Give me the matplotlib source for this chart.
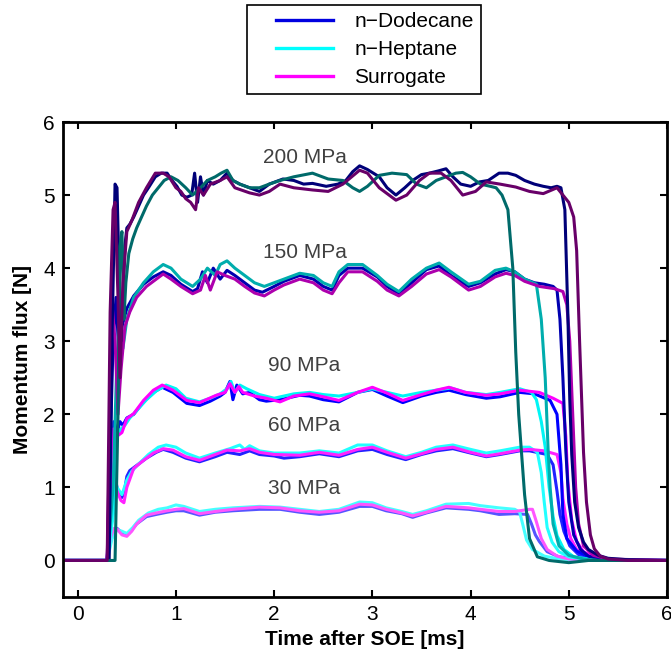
import numpy as np
import matplotlib
matplotlib.use('Agg')
import matplotlib.pyplot as plt
from matplotlib.lines import Line2D
from matplotlib.legend_handler import HandlerLine2D

plt.rcParams['font.family'] = ['Liberation Sans', 'DejaVu Sans']

# (time [ms], momentum flux [N])
dod200 = [(-0.15, 0), (0.32, 0), (0.35, 3.1), (0.38, 5.15), (0.40, 5.1), (0.42, 4.0), (0.44, 3.0),
          (0.46, 3.6), (0.48, 4.3), (0.50, 4.55), (0.53, 4.6), (0.57, 4.7), (0.62, 4.85), (0.67, 5.0),
          (0.72, 5.1), (0.79, 5.25), (0.85, 5.3), (0.91, 5.3), (0.96, 5.2), (1.01, 5.12), (1.06, 5.0),
          (1.11, 4.97), (1.16, 5.0), (1.19, 5.3), (1.22, 4.9), (1.25, 5.25), (1.28, 5.0), (1.32, 5.2),
          (1.38, 5.15), (1.45, 5.2), (1.52, 5.3), (1.58, 5.2), (1.65, 5.15), (1.75, 5.1), (1.85, 5.05),
          (1.95, 5.15), (2.09, 5.22), (2.2, 5.2), (2.3, 5.15), (2.39, 5.16), (2.53, 5.12), (2.65, 5.15),
          (2.73, 5.2), (2.8, 5.32), (2.87, 5.4), (2.95, 5.35), (3.07, 5.25), (3.15, 5.1), (3.24, 5.0),
          (3.33, 5.1), (3.41, 5.2), (3.5, 5.28), (3.58, 5.3), (3.67, 5.33), (3.75, 5.36), (3.82, 5.25),
          (3.9, 5.15), (4.0, 5.12), (4.09, 5.18), (4.18, 5.2), (4.29, 5.3), (4.38, 5.3), (4.46, 5.27),
          (4.55, 5.2), (4.65, 5.15), (4.74, 5.12), (4.82, 5.1), (4.88, 5.12), (4.92, 5.1), (4.96, 4.8),
          (4.99, 3.4), (5.01, 2.2), (5.03, 1.45), (5.06, 0.8), (5.1, 0.45), (5.15, 0.25), (5.2, 0.15),
          (5.3, 0.07), (5.4, 0.03), (5.6, 0.01), (6.0, 0.0)]
hep200 = [(-0.15, 0), (0.38, 0), (0.41, 2.0), (0.43, 4.3), (0.45, 4.5), (0.47, 3.3), (0.49, 3.8),
          (0.52, 4.2), (0.56, 4.4), (0.6, 4.55), (0.65, 4.7), (0.7, 4.85), (0.76, 5.0), (0.82, 5.1),
          (0.88, 5.2), (0.95, 5.25), (1.02, 5.2), (1.1, 5.1), (1.17, 5.0), (1.25, 5.1), (1.32, 5.2),
          (1.4, 5.25), (1.46, 5.3), (1.52, 5.34), (1.58, 5.2), (1.65, 5.15), (1.75, 5.1), (1.85, 5.1),
          (1.95, 5.15), (2.06, 5.2), (2.2, 5.25), (2.39, 5.3), (2.55, 5.22), (2.7, 5.2), (2.8, 5.1),
          (2.87, 5.05), (2.95, 5.12), (3.07, 5.27), (3.2, 5.3), (3.35, 5.28), (3.45, 5.15), (3.55, 5.1),
          (3.65, 5.2), (3.75, 5.25), (3.85, 5.3), (3.92, 5.31), (4.0, 5.25), (4.1, 5.15), (4.2, 5.12),
          (4.26, 5.1), (4.32, 5.0), (4.38, 4.8), (4.43, 4.0), (4.46, 2.85), (4.49, 2.0), (4.52, 1.45),
          (4.55, 0.9), (4.6, 0.3), (4.68, 0.05), (4.8, 0.0), (5.0, -0.03), (5.2, 0.0), (5.5, 0.0), (6.0, 0.0)]
sur200 = [(-0.15, 0), (0.30, 0), (0.33, 3.4), (0.36, 4.8), (0.38, 4.9), (0.41, 3.6), (0.43, 2.5),
          (0.46, 3.8), (0.5, 4.5), (0.55, 4.65), (0.62, 4.9), (0.7, 5.1), (0.79, 5.3), (0.87, 5.3),
          (0.93, 5.25), (1.0, 5.1), (1.05, 5.05), (1.1, 4.95), (1.15, 4.9), (1.2, 4.8), (1.23, 5.1),
          (1.28, 5.0), (1.35, 5.15), (1.45, 5.2), (1.52, 5.25), (1.6, 5.1), (1.75, 5.03), (1.85, 5.0),
          (1.95, 5.05), (2.06, 5.15), (2.2, 5.1), (2.39, 5.07), (2.55, 5.05), (2.7, 5.15), (2.87, 5.34),
          (2.95, 5.3), (3.07, 5.1), (3.24, 4.93), (3.35, 5.0), (3.48, 5.2), (3.58, 5.3), (3.7, 5.3),
          (3.8, 5.2), (3.92, 5.0), (4.05, 5.05), (4.16, 5.18), (4.3, 5.15), (4.46, 5.11), (4.6, 5.05),
          (4.74, 5.02), (4.88, 5.1), (4.94, 5.0), (5.0, 4.9), (5.05, 4.7), (5.08, 4.24), (5.11, 3.0),
          (5.15, 1.48), (5.18, 0.8), (5.22, 0.35), (5.26, 0.16), (5.32, 0.06), (5.4, 0.02), (5.6, 0.0),
          (6.0, 0.0)]

dod150 = [(-0.15, 0), (0.30, 0), (0.33, 1.5), (0.36, 3.0), (0.39, 3.6), (0.42, 2.8), (0.45, 3.2),
          (0.5, 3.45), (0.57, 3.62), (0.67, 3.78), (0.77, 3.88), (0.87, 3.95), (0.95, 3.9), (1.05, 3.78),
          (1.17, 3.68), (1.22, 3.72), (1.27, 3.95), (1.32, 3.8), (1.38, 4.0), (1.45, 3.85), (1.52, 3.97),
          (1.6, 3.9), (1.7, 3.8), (1.8, 3.7), (1.88, 3.67), (2.0, 3.75), (2.1, 3.82), (2.26, 3.9),
          (2.4, 3.85), (2.5, 3.75), (2.59, 3.7), (2.66, 3.9), (2.75, 4.0), (2.9, 4.0), (3.05, 3.88),
          (3.15, 3.75), (3.27, 3.65), (3.4, 3.8), (3.55, 3.98), (3.68, 4.03), (3.8, 3.9), (3.98, 3.75),
          (4.1, 3.8), (4.25, 3.92), (4.36, 3.98), (4.45, 3.95), (4.55, 3.85), (4.65, 3.8), (4.75, 3.78),
          (4.84, 3.75), (4.88, 3.7), (4.91, 3.3), (4.94, 2.5), (4.97, 1.5), (5.0, 0.8), (5.05, 0.35),
          (5.12, 0.15), (5.2, 0.06), (5.3, 0.02), (5.5, 0.0), (6.0, 0.0)]
hep150 = [(-0.15, 0), (0.30, 0), (0.36, 1.0), (0.4, 2.8), (0.43, 3.3), (0.46, 2.9), (0.5, 3.3),
          (0.57, 3.6), (0.67, 3.8), (0.77, 3.95), (0.87, 4.05), (0.95, 4.0), (1.05, 3.85), (1.17, 3.75),
          (1.25, 3.85), (1.32, 4.0), (1.4, 3.9), (1.45, 4.05), (1.52, 4.1), (1.6, 4.0), (1.7, 3.9),
          (1.8, 3.8), (1.9, 3.75), (2.0, 3.8), (2.1, 3.85), (2.26, 3.93), (2.4, 3.9), (2.5, 3.8),
          (2.59, 3.75), (2.66, 3.95), (2.75, 4.05), (2.9, 4.05), (3.05, 3.9), (3.15, 3.78), (3.27, 3.68),
          (3.4, 3.85), (3.55, 4.0), (3.68, 4.07), (3.8, 3.95), (3.98, 3.78), (4.1, 3.82), (4.25, 3.97),
          (4.36, 4.0), (4.45, 3.95), (4.55, 3.85), (4.67, 3.78), (4.72, 3.3), (4.76, 2.5), (4.79, 1.5),
          (4.81, 1.0), (4.84, 0.5), (4.9, 0.2), (5.0, 0.07), (5.15, 0.02), (5.3, 0.0), (6.0, 0.0)]
sur150 = [(-0.15, 0), (0.30, 0), (0.33, 2.0), (0.35, 3.5), (0.38, 3.0), (0.41, 2.0), (0.44, 2.6),
          (0.48, 3.2), (0.53, 3.4), (0.6, 3.6), (0.7, 3.75), (0.8, 3.85), (0.87, 3.92), (0.95, 3.85),
          (1.05, 3.75), (1.17, 3.65), (1.25, 3.7), (1.3, 3.9), (1.35, 3.7), (1.42, 3.95), (1.5, 3.9),
          (1.6, 3.85), (1.7, 3.75), (1.8, 3.66), (1.9, 3.62), (2.0, 3.7), (2.1, 3.77), (2.26, 3.85),
          (2.4, 3.8), (2.5, 3.7), (2.59, 3.65), (2.66, 3.8), (2.75, 3.95), (2.9, 3.95), (3.05, 3.82),
          (3.15, 3.7), (3.27, 3.62), (3.4, 3.75), (3.55, 3.92), (3.68, 3.98), (3.8, 3.88), (3.98, 3.7),
          (4.1, 3.75), (4.25, 3.88), (4.36, 3.93), (4.45, 3.9), (4.55, 3.82), (4.7, 3.75), (4.85, 3.72),
          (4.94, 3.68), (4.98, 3.5), (5.01, 3.0), (5.04, 2.0), (5.07, 1.0), (5.1, 0.5), (5.15, 0.2),
          (5.25, 0.07), (5.4, 0.02), (6.0, 0.0)]

dod90 = [(-0.15, 0), (0.30, 0), (0.34, 1.2), (0.37, 1.9), (0.40, 1.75), (0.43, 1.9), (0.46, 1.85),
         (0.5, 1.95), (0.57, 2.0), (0.67, 2.17), (0.77, 2.3), (0.86, 2.37), (0.97, 2.3), (1.11, 2.15),
         (1.24, 2.12), (1.35, 2.18), (1.45, 2.25), (1.5, 2.3), (1.55, 2.45), (1.58, 2.2), (1.62, 2.4),
         (1.68, 2.28), (1.75, 2.3), (1.85, 2.2), (1.92, 2.18), (2.06, 2.2), (2.26, 2.26), (2.36, 2.25),
         (2.5, 2.2), (2.66, 2.17), (2.85, 2.3), (3.0, 2.34), (3.15, 2.25), (3.31, 2.16), (3.5, 2.25),
         (3.65, 2.3), (3.78, 2.33), (3.95, 2.27), (4.16, 2.22), (4.3, 2.24), (4.5, 2.3), (4.65, 2.28),
         (4.81, 2.19), (4.88, 2.0), (4.92, 1.31), (4.94, 0.63), (4.98, 0.3), (5.08, 0.13), (5.2, 0.05),
         (5.4, 0.0), (6.0, 0.0)]
hep90 = [(-0.15, 0), (0.30, 0), (0.36, 0.8), (0.4, 1.7), (0.44, 1.8), (0.48, 1.85), (0.53, 1.95),
         (0.6, 2.05), (0.7, 2.2), (0.8, 2.32), (0.9, 2.4), (1.0, 2.35), (1.1, 2.22), (1.24, 2.17),
         (1.35, 2.22), (1.45, 2.28), (1.52, 2.35), (1.56, 2.45), (1.6, 2.3), (1.65, 2.4), (1.72, 2.35),
         (1.85, 2.27), (2.0, 2.22), (2.2, 2.28), (2.36, 2.3), (2.5, 2.27), (2.66, 2.25), (2.85, 2.3),
         (3.0, 2.35), (3.15, 2.3), (3.31, 2.25), (3.5, 2.3), (3.65, 2.33), (3.8, 2.36), (3.95, 2.3),
         (4.16, 2.27), (4.3, 2.3), (4.5, 2.35), (4.62, 2.3), (4.67, 2.2), (4.72, 1.9), (4.76, 1.55),
         (4.8, 1.0), (4.84, 0.6), (4.88, 0.34), (4.95, 0.15), (5.05, 0.05), (5.3, 0.0), (6.0, 0.0)]
sur90 = [(-0.15, 0), (0.30, 0), (0.33, 1.0), (0.36, 1.8), (0.4, 1.7), (0.45, 1.75), (0.5, 1.94),
         (0.57, 2.01), (0.67, 2.19), (0.77, 2.33), (0.86, 2.4), (0.97, 2.33), (1.11, 2.19), (1.24, 2.16),
         (1.41, 2.26), (1.5, 2.3), (1.55, 2.42), (1.6, 2.3), (1.64, 2.38), (1.68, 2.3), (1.8, 2.25),
         (1.92, 2.22), (2.06, 2.17), (2.2, 2.25), (2.36, 2.28), (2.5, 2.24), (2.66, 2.19), (2.85, 2.3),
         (3.0, 2.37), (3.15, 2.29), (3.31, 2.19), (3.5, 2.27), (3.65, 2.33), (3.78, 2.37), (3.95, 2.3),
         (4.16, 2.26), (4.3, 2.28), (4.5, 2.33), (4.7, 2.3), (4.84, 2.22), (4.94, 2.15), (4.97, 1.7),
         (4.99, 1.08), (5.03, 0.55), (5.08, 0.26), (5.15, 0.12), (5.25, 0.05), (5.4, 0.01), (6.0, 0.0)]

dod60 = [(-0.15, 0), (0.30, 0), (0.33, 0.8), (0.36, 1.3), (0.4, 1.0), (0.44, 0.85), (0.47, 0.9),
         (0.5, 1.15), (0.53, 1.23), (0.6, 1.3), (0.7, 1.4), (0.8, 1.48), (0.87, 1.52), (0.97, 1.48),
         (1.1, 1.4), (1.24, 1.35), (1.4, 1.42), (1.52, 1.48), (1.65, 1.45), (1.75, 1.5), (1.85, 1.45),
         (2.0, 1.43), (2.1, 1.4), (2.26, 1.42), (2.46, 1.46), (2.66, 1.42), (2.85, 1.5), (3.0, 1.52),
         (3.15, 1.45), (3.34, 1.38), (3.5, 1.45), (3.65, 1.5), (3.82, 1.53), (4.0, 1.47), (4.16, 1.42),
         (4.3, 1.45), (4.5, 1.5), (4.6, 1.5), (4.78, 1.45), (4.84, 1.31), (4.88, 0.95), (4.91, 0.63),
         (4.95, 0.4), (5.01, 0.2), (5.1, 0.08), (5.2, 0.03), (5.35, 0.0), (6.0, 0.0)]
hep60 = [(-0.15, 0), (0.30, 0), (0.36, 0.6), (0.4, 1.0), (0.45, 0.9), (0.5, 1.1), (0.55, 1.22),
         (0.62, 1.32), (0.72, 1.45), (0.82, 1.55), (0.9, 1.58), (1.0, 1.55), (1.1, 1.47), (1.24, 1.4),
         (1.4, 1.47), (1.55, 1.53), (1.65, 1.58), (1.7, 1.52), (1.75, 1.57), (1.85, 1.5), (2.0, 1.47),
         (2.26, 1.47), (2.46, 1.5), (2.66, 1.47), (2.85, 1.58), (3.0, 1.58), (3.15, 1.5), (3.34, 1.42),
         (3.5, 1.48), (3.65, 1.55), (3.82, 1.58), (4.0, 1.52), (4.16, 1.47), (4.3, 1.5), (4.5, 1.55),
         (4.6, 1.55), (4.68, 1.48), (4.72, 1.2), (4.75, 0.8), (4.78, 0.45), (4.83, 0.25), (4.9, 0.12),
         (5.0, 0.05), (5.2, 0.01), (6.0, 0.0)]
sur60 = [(-0.15, 0), (0.30, 0), (0.33, 0.7), (0.36, 1.1), (0.4, 0.95), (0.44, 0.82), (0.47, 0.79),
         (0.5, 1.0), (0.57, 1.26), (0.67, 1.37), (0.77, 1.47), (0.87, 1.53), (0.97, 1.51), (1.1, 1.42),
         (1.24, 1.37), (1.4, 1.45), (1.52, 1.51), (1.65, 1.5), (1.75, 1.53), (1.85, 1.48), (2.0, 1.45),
         (2.26, 1.44), (2.46, 1.48), (2.66, 1.44), (2.85, 1.52), (3.0, 1.55), (3.15, 1.48), (3.34, 1.4),
         (3.5, 1.46), (3.65, 1.52), (3.82, 1.55), (4.0, 1.48), (4.16, 1.43), (4.3, 1.46), (4.5, 1.51),
         (4.6, 1.52), (4.75, 1.5), (4.88, 1.45), (4.92, 1.2), (4.94, 0.85), (4.98, 0.5), (5.02, 0.3),
         (5.08, 0.15), (5.2, 0.05), (5.35, 0.01), (6.0, 0.0)]

dod30 = [(-0.15, 0), (0.30, 0), (0.33, 0.3), (0.36, 0.42), (0.4, 0.44), (0.45, 0.38), (0.5, 0.35),
         (0.55, 0.42), (0.6, 0.5), (0.7, 0.6), (0.8, 0.63), (0.91, 0.66), (1.0, 0.68), (1.08, 0.68),
         (1.24, 0.62), (1.4, 0.66), (1.58, 0.68), (1.85, 0.7), (2.06, 0.7), (2.26, 0.66), (2.46, 0.63),
         (2.66, 0.66), (2.87, 0.74), (3.0, 0.74), (3.14, 0.68), (3.3, 0.64), (3.41, 0.59), (3.55, 0.65),
         (3.75, 0.72), (3.98, 0.7), (4.1, 0.68), (4.29, 0.63), (4.45, 0.64), (4.58, 0.63), (4.62, 0.5),
         (4.66, 0.35), (4.7, 0.26), (4.78, 0.12), (4.9, 0.05), (5.2, 0.0), (6.0, 0.0)]
hep30 = [(-0.15, 0), (0.30, 0), (0.35, 0.3), (0.4, 0.42), (0.45, 0.4), (0.5, 0.37), (0.56, 0.45),
         (0.62, 0.55), (0.72, 0.65), (0.82, 0.7), (0.91, 0.72), (1.0, 0.76), (1.08, 0.74), (1.24, 0.67),
         (1.4, 0.7), (1.58, 0.72), (1.85, 0.74), (2.06, 0.73), (2.26, 0.7), (2.46, 0.67), (2.66, 0.7),
         (2.87, 0.8), (3.0, 0.79), (3.14, 0.72), (3.3, 0.67), (3.41, 0.63), (3.55, 0.68), (3.75, 0.77),
         (3.98, 0.78), (4.1, 0.75), (4.29, 0.72), (4.45, 0.7), (4.5, 0.66), (4.53, 0.5), (4.57, 0.28),
         (4.63, 0.15), (4.75, 0.06), (4.9, 0.02), (5.2, 0.0), (6.0, 0.0)]
sur30 = [(-0.15, 0), (0.30, 0), (0.33, 0.3), (0.37, 0.44), (0.4, 0.43), (0.45, 0.35), (0.5, 0.33),
         (0.55, 0.4), (0.6, 0.5), (0.7, 0.62), (0.8, 0.65), (0.91, 0.68), (1.0, 0.7), (1.08, 0.71),
         (1.24, 0.64), (1.4, 0.67), (1.58, 0.7), (1.85, 0.73), (2.06, 0.72), (2.26, 0.68), (2.46, 0.66),
         (2.66, 0.68), (2.87, 0.77), (3.0, 0.76), (3.14, 0.7), (3.3, 0.65), (3.41, 0.61), (3.55, 0.66),
         (3.75, 0.74), (3.98, 0.72), (4.1, 0.7), (4.29, 0.67), (4.45, 0.67), (4.6, 0.7), (4.63, 0.7),
         (4.67, 0.53), (4.72, 0.3), (4.78, 0.15), (4.88, 0.06), (5.0, 0.02), (5.3, 0.0), (6.0, 0.0)]

fuels = ['n\u2212Dodecane', 'n\u2212Heptane', 'Surrogate']
pressure_labels = ['30 MPa', '60 MPa', '90 MPa', '150 MPa', '200 MPa']
label_pos = [(2.31, 0.99), (2.31, 1.85), (2.31, 2.67), (2.31, 4.22), (2.31, 5.52)]

series = [
    (dod30, '#5555ff'), (hep30, '#45ffff'), (sur30, '#ff55ff'),
    (dod60, '#2222ff'), (hep60, '#22ffff'), (sur60, '#ff22ff'),
    (dod90, '#0000ff'), (hep90, '#00f5f5'), (sur90, '#ff00ff'),
    (dod150, '#0000b0'), (hep150, '#00adad'), (sur150, '#ad00ad'),
    (dod200, '#000078'), (hep200, '#006a6a'), (sur200, '#680068'),
]

fig = plt.figure(figsize=(6.71, 6.6), dpi=100)
ax = fig.add_axes([63 / 671, 63 / 660, 604 / 671, 475 / 660])

for pts, col in series:
    t, y = np.array(pts).T
    ax.plot(t, y, color=col, lw=2.2, solid_joinstyle='round')

for txt, (x, y) in zip(pressure_labels, label_pos):
    ax.text(x, y, txt, ha='center', va='center', fontsize=15, color='#404040')

ax.set_xlim(-0.15, 6)
ax.set_ylim(-0.5, 6)
ax.set_xticks(range(0, 7))
ax.set_yticks(range(0, 7))
ax.tick_params(direction='in', length=5, width=1.5, top=True, right=True,
               labelsize=15, pad=6)
for s in ax.spines.values():
    s.set_linewidth(2.0)
ax.set_xlabel('Time after SOE [ms]', fontsize=15, fontweight='bold', labelpad=4)
ax.set_ylabel('Momentum flux [N]', fontsize=15, fontweight='bold', labelpad=8)

handles = [Line2D([], [], color=c, lw=2.4) for c in ['#0000e0', '#00ffff', '#ff00ff']]
leg = fig.legend(handles, fuels, loc='upper center', bbox_to_anchor=(364 / 671, 1 - 5 / 660),
                 fontsize=15, frameon=True, fancybox=False, edgecolor='black', framealpha=1,
                 borderpad=0.35, borderaxespad=0, handlelength=3.8, handletextpad=1.0,
                 labelspacing=0.42, handler_map={Line2D: HandlerLine2D(xpad=1.06)})
leg.get_frame().set_linewidth(1.2)

fig.savefig('out.png', dpi=100)
